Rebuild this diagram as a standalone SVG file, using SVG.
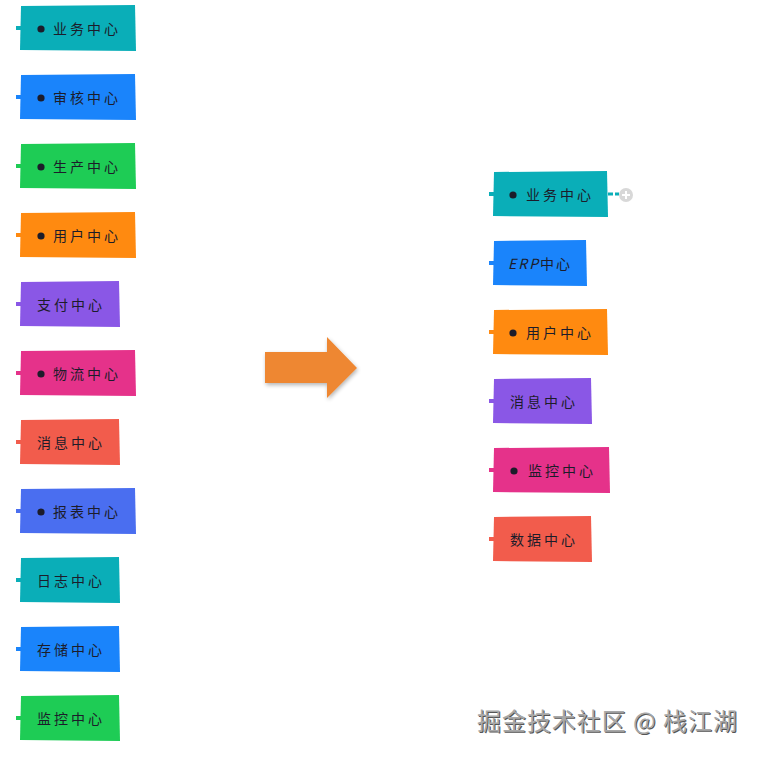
<svg xmlns="http://www.w3.org/2000/svg" width="759" height="757" viewBox="0 0 759 757">
<defs>
<style>
.t{font-family:"Noto Sans CJK SC","Noto Sans",sans-serif;font-size:14px;fill:#1c1c2a;letter-spacing:3px;dominant-baseline:central}
.b{fill:#1c1c2a}
.wm{font-family:"Noto Sans CJK SC","Noto Sans",sans-serif;font-size:24px}
</style>
<filter id="sh" x="-20%" y="-20%" width="140%" height="140%"><feGaussianBlur in="SourceAlpha" stdDeviation="2"/><feOffset dx="1" dy="2"/><feComponentTransfer><feFuncA type="linear" slope="0.3"/></feComponentTransfer><feMerge><feMergeNode/><feMergeNode in="SourceGraphic"/></feMerge></filter>
</defs>
<rect width="759" height="757" fill="#ffffff"/>

<g id="connectors">
<line x1="608" y1="194" x2="619" y2="194" stroke="#0aaeb8" stroke-width="3" stroke-dasharray="5,2"/>
</g>

<!-- left column -->
<g id="L1"><rect x="16" y="26" width="6" height="4" fill="#0aaeb8"/><path d="M21 6 L135 5 L136 51 L20 50 Z" fill="#0aaeb8"/><circle class="b" cx="41" cy="29" r="3.6"/><text class="t" x="53" y="27.5">业务中心</text></g>
<g id="L2"><rect x="16" y="95" width="6" height="4" fill="#1a84fb"/><path d="M21 75 L135 74 L136 120 L20 119 Z" fill="#1a84fb"/><circle class="b" cx="41" cy="98" r="3.6"/><text class="t" x="53" y="96.5">审核中心</text></g>
<g id="L3"><rect x="16" y="164" width="6" height="4" fill="#1ecc55"/><path d="M21 144 L135 143 L136 189 L20 188 Z" fill="#1ecc55"/><circle class="b" cx="41" cy="167" r="3.6"/><text class="t" x="53" y="165.5">生产中心</text></g>
<g id="L4"><rect x="16" y="233" width="6" height="4" fill="#ff8a10"/><path d="M21 213 L135 212 L136 258 L20 257 Z" fill="#ff8a10"/><circle class="b" cx="41" cy="236" r="3.6"/><text class="t" x="53" y="234.5">用户中心</text></g>
<g id="L5"><rect x="16" y="302" width="6" height="4" fill="#8a57e6"/><path d="M21 282 L119 281 L120 327 L20 326 Z" fill="#8a57e6"/><text class="t" x="37" y="303.5">支付中心</text></g>
<g id="L6"><rect x="16" y="371" width="6" height="4" fill="#e5328a"/><path d="M21 351 L135 350 L136 396 L20 395 Z" fill="#e5328a"/><circle class="b" cx="41" cy="374" r="3.6"/><text class="t" x="53" y="372.5">物流中心</text></g>
<g id="L7"><rect x="16" y="440" width="6" height="4" fill="#f25c4c"/><path d="M21 420 L119 419 L120 465 L20 464 Z" fill="#f25c4c"/><text class="t" x="37" y="441.5">消息中心</text></g>
<g id="L8"><rect x="16" y="509" width="6" height="4" fill="#4a6ef0"/><path d="M21 489 L135 488 L136 534 L20 533 Z" fill="#4a6ef0"/><circle class="b" cx="41" cy="512" r="3.6"/><text class="t" x="53" y="510.5">报表中心</text></g>
<g id="L9"><rect x="16" y="578" width="6" height="4" fill="#0aaeb8"/><path d="M21 558 L119 557 L120 603 L20 602 Z" fill="#0aaeb8"/><text class="t" x="37" y="579.5">日志中心</text></g>
<g id="L10"><rect x="16" y="647" width="6" height="4" fill="#1a84fb"/><path d="M21 627 L119 626 L120 672 L20 671 Z" fill="#1a84fb"/><text class="t" x="37" y="648.5">存储中心</text></g>
<g id="L11"><rect x="16" y="716" width="6" height="4" fill="#1ecc55"/><path d="M21 696 L119 695 L120 741 L20 740 Z" fill="#1ecc55"/><text class="t" x="37" y="717.5">监控中心</text></g>

<!-- arrow -->
<g id="arrow" filter="url(#sh)"><path d="M265 352 L327 352 L327 337 L357 368 L327 398 L327 383 L265 383 Z" fill="#ee8733"/></g>

<!-- right column -->
<g id="R1"><rect x="489" y="192" width="6" height="4" fill="#0aaeb8"/><path d="M494 172 L607 171 L608 217 L493 216 Z" fill="#0aaeb8"/><circle class="b" cx="513" cy="195" r="3.6"/><text class="t" x="526" y="193.5">业务中心</text>
<circle cx="626" cy="195" r="7" fill="#d8d8d8"/><path d="M622 195 H630 M626 191 V199" stroke="#ffffff" stroke-width="2"/></g>
<g id="R2"><rect x="489" y="261" width="6" height="4" fill="#1a84fb"/><path d="M494 241 L586 240 L587 286 L493 285 Z" fill="#1a84fb"/><text class="t" x="508" y="262.5" style="letter-spacing:2px"><tspan font-style="italic">ERP</tspan>中心</text></g>
<g id="R3"><rect x="489" y="330" width="6" height="4" fill="#ff8a10"/><path d="M494 310 L607 309 L608 355 L493 354 Z" fill="#ff8a10"/><circle class="b" cx="513" cy="333" r="3.6"/><text class="t" x="526" y="331.5">用户中心</text></g>
<g id="R4"><rect x="489" y="399" width="6" height="4" fill="#8a57e6"/><path d="M494 379 L591 378 L592 424 L493 423 Z" fill="#8a57e6"/><text class="t" x="510" y="400.5">消息中心</text></g>
<g id="R5"><rect x="489" y="468" width="6" height="4" fill="#e5328a"/><path d="M494 448 L609 447 L610 493 L493 492 Z" fill="#e5328a"/><circle class="b" cx="514" cy="471" r="3.6"/><text class="t" x="528" y="469.5">监控中心</text></g>
<g id="R6"><rect x="489" y="537" width="6" height="4" fill="#f25c4c"/><path d="M494 517 L591 516 L592 562 L493 561 Z" fill="#f25c4c"/><text class="t" x="510" y="538.5">数据中心</text></g>

<!-- watermark -->
<g id="watermark">
<text class="wm" x="478" y="731" fill="#555555" textLength="260" lengthAdjust="spacing">掘金技术社区 @ 栈江湖</text>
<text class="wm" x="477" y="730" fill="#a8a8a8" textLength="260" lengthAdjust="spacing">掘金技术社区 @ 栈江湖</text>
</g>
</svg>
